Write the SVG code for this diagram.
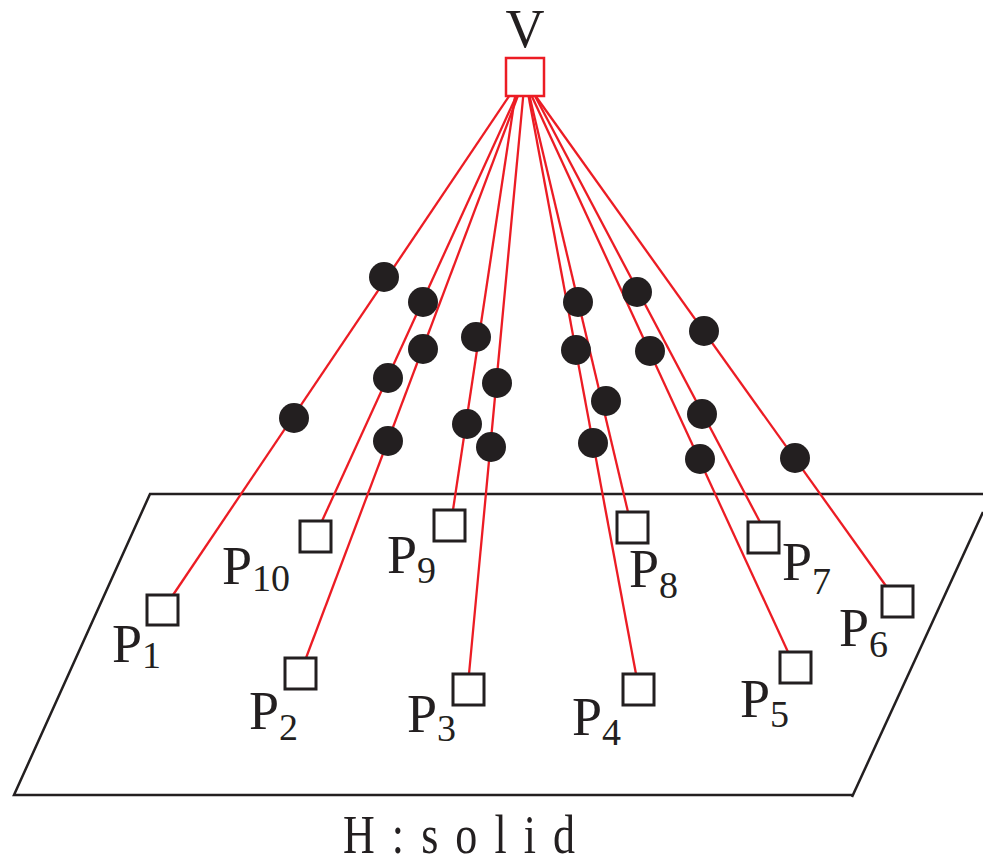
<svg xmlns="http://www.w3.org/2000/svg" width="983" height="866" viewBox="0 0 983 866">
<style>
.plane{fill:none;stroke:#231f20;stroke-width:2.5}
.edge{stroke:#ec1c24;stroke-width:2.3;fill:none}
.dot{fill:#231f20}
.pbox{fill:#fff;stroke:#231f20;stroke-width:3}
.vbox{fill:#fff;stroke:#ec1c24;stroke-width:2.5}
.lbl{font-family:"Liberation Serif",serif;font-size:54px;fill:#231f20}
.sub{font-size:38px}
.cap{font-family:"Liberation Serif",serif;font-size:55px;fill:#231f20}
</style>
<g id="plane">
<polyline class="plane" points="983,494 150,494 14,795 852,795"/>
<line class="plane" x1="983" y1="512" x2="852" y2="797"/>
</g>
<g id="connectors">
<line class="edge" x1="522" y1="77" x2="173" y2="595"/>
<line class="edge" x1="525" y1="77" x2="322" y2="521"/>
<line class="edge" x1="525" y1="77" x2="306" y2="658"/>
<line class="edge" x1="518" y1="77" x2="453" y2="510"/>
<line class="edge" x1="525" y1="77" x2="469" y2="674"/>
<line class="edge" x1="525" y1="77" x2="636" y2="674"/>
<line class="edge" x1="525" y1="77" x2="628" y2="512"/>
<line class="edge" x1="525" y1="77" x2="760" y2="522"/>
<line class="edge" x1="523" y1="77" x2="788" y2="652"/>
<line class="edge" x1="522" y1="77" x2="886" y2="586"/>
</g>
<g id="dots">
<circle class="dot" cx="384" cy="277" r="15"/>
<circle class="dot" cx="294" cy="418" r="15"/>
<circle class="dot" cx="423" cy="302" r="15"/>
<circle class="dot" cx="388" cy="378" r="15"/>
<circle class="dot" cx="423" cy="349" r="15"/>
<circle class="dot" cx="388" cy="441" r="15"/>
<circle class="dot" cx="476" cy="337" r="15"/>
<circle class="dot" cx="467" cy="424" r="15"/>
<circle class="dot" cx="497" cy="383" r="15"/>
<circle class="dot" cx="491" cy="447" r="15"/>
<circle class="dot" cx="578" cy="302" r="15"/>
<circle class="dot" cx="606" cy="401" r="15"/>
<circle class="dot" cx="576" cy="350" r="15"/>
<circle class="dot" cx="593" cy="443" r="15"/>
<circle class="dot" cx="637" cy="292" r="15"/>
<circle class="dot" cx="702" cy="414" r="15"/>
<circle class="dot" cx="650" cy="351" r="15"/>
<circle class="dot" cx="700" cy="459" r="15"/>
<circle class="dot" cx="704" cy="331" r="15"/>
<circle class="dot" cx="795" cy="458" r="15"/>
</g>
<g id="V">
<rect class="vbox" x="506" y="58" width="38" height="38"/>
<text class="lbl" x="525" y="47" text-anchor="middle">V</text>
</g>
<g id="P1">
<rect class="pbox" x="147" y="595" width="31" height="30"/>
<text class="lbl" x="112" y="662">P<tspan class="sub" font-size="44" dy="6">1</tspan></text>
</g>
<g id="P2">
<rect class="pbox" x="285" y="658" width="31" height="31"/>
<text class="lbl" x="249" y="729">P<tspan class="sub" dy="11">2</tspan></text>
</g>
<g id="P3">
<rect class="pbox" x="453" y="674" width="31" height="31"/>
<text class="lbl" x="407" y="732">P<tspan class="sub" dy="9">3</tspan></text>
</g>
<g id="P4">
<rect class="pbox" x="623" y="674" width="31" height="31"/>
<text class="lbl" x="572" y="735">P<tspan class="sub" dy="10">4</tspan></text>
</g>
<g id="P5">
<rect class="pbox" x="780" y="652" width="31" height="31"/>
<text class="lbl" x="740" y="717">P<tspan class="sub" dy="10">5</tspan></text>
</g>
<g id="P6">
<rect class="pbox" x="882" y="586" width="31" height="31"/>
<text class="lbl" x="839" y="646">P<tspan class="sub" dy="11">6</tspan></text>
</g>
<g id="P7">
<rect class="pbox" x="748" y="522" width="31" height="31"/>
<text class="lbl" x="782" y="580">P<tspan class="sub" dy="14">7</tspan></text>
</g>
<g id="P8">
<rect class="pbox" x="617" y="512" width="31" height="31"/>
<text class="lbl" x="629" y="587">P<tspan class="sub" dy="11">8</tspan></text>
</g>
<g id="P9">
<rect class="pbox" x="434" y="510" width="31" height="31"/>
<text class="lbl" x="387" y="573">P<tspan class="sub" dy="10">9</tspan></text>
</g>
<g id="P10">
<rect class="pbox" x="300" y="521" width="31" height="31"/>
<text class="lbl" x="222" y="584">P<tspan class="sub" dy="7">10</tspan></text>
</g>
<g id="caption">
<text class="cap" transform="translate(343,853) scale(0.8,1)" x="0" y="0" textLength="290" lengthAdjust="spacing">H:solid</text>
</g>
</svg>
